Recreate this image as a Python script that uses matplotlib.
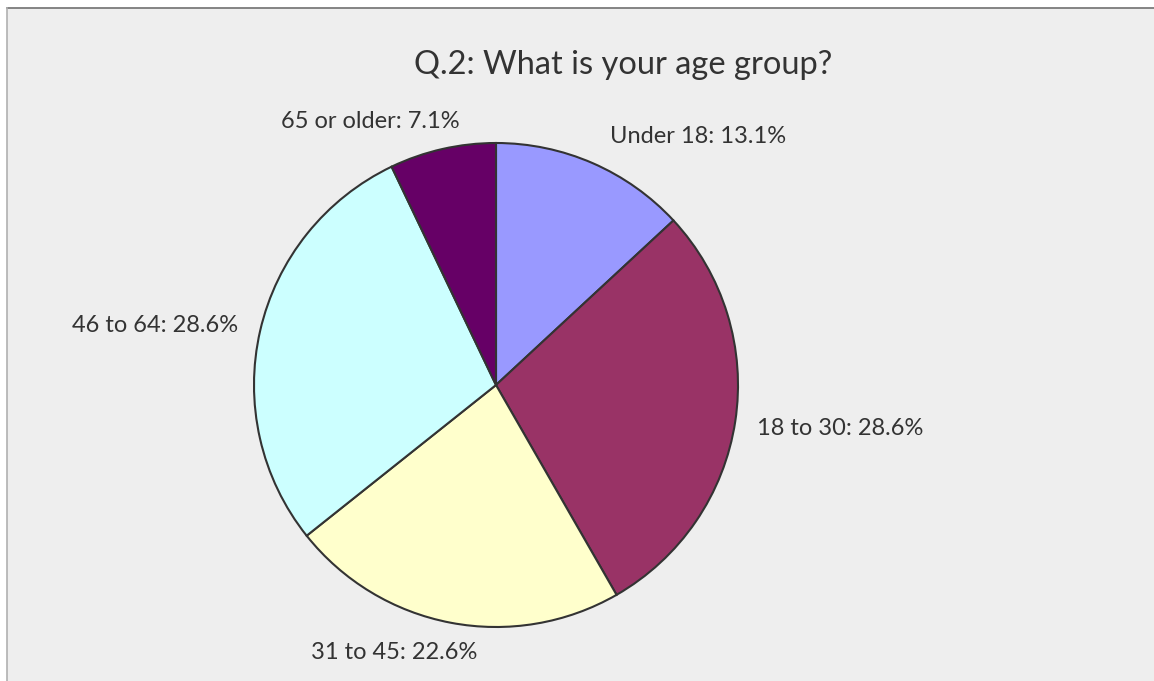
import matplotlib.pyplot as plt
from matplotlib.patches import Rectangle

# data
groups = ["Under 18", "18 to 30", "31 to 45", "46 to 64", "65 or older"]
shares = [13.1, 28.6, 22.6, 28.6, 7.1]
colors = ["#9999FF", "#993366", "#FFFFCC", "#CCFFFF", "#660066"]

# label positions (pie radius = 1)
label_xy = [(0.833, 1.025), (1.421, -0.178), (-0.419, -1.107),
            (-1.409, 0.244), (-0.521, 1.088)]

W, H = 1154, 681
fig = plt.figure(figsize=(W/100, H/100), dpi=100)
fig.patch.set_facecolor("white")

# chart area background with border (only top/left visible)
fig.patches.append(Rectangle((7/W, 0), 1, 1 - 8/H, transform=fig.transFigure,
                             facecolor="#EEEEEE", edgecolor="none", zorder=-5))
fig.add_artist(plt.Line2D([7/W, 1], [1 - 8/H, 1 - 8/H], color="#707070", lw=1.2, zorder=-4))
fig.add_artist(plt.Line2D([7/W, 7/W], [0, 1 - 8/H], color="#B0B0B0", lw=1.2, zorder=-4))

cx, cy, r = 496, 385, 242
ax = fig.add_axes([(cx - r)/W, (H - cy - r)/H, 2*r/W, 2*r/H])
ax.set_facecolor("none")
ax.pie(shares, colors=colors, startangle=90, counterclock=False,
       wedgeprops=dict(edgecolor="#333333", linewidth=1.5))
ax.set_xlim(-1, 1)
ax.set_ylim(-1, 1)
ax.set_aspect("auto")
ax.axis("off")

for g, s, (x, y) in zip(groups, shares, label_xy):
    ax.text(x, y, f"{g}: {s}%", ha="center", va="center", fontsize=17,
            color="#333333", family="Lato", clip_on=False)

fig.text(623/W, 1 - 65/H, "Q.2: What is your age group?", ha="center", va="center",
         fontsize=23.5, color="#333333", family="Lato")

fig.savefig("out.png", dpi=100)
